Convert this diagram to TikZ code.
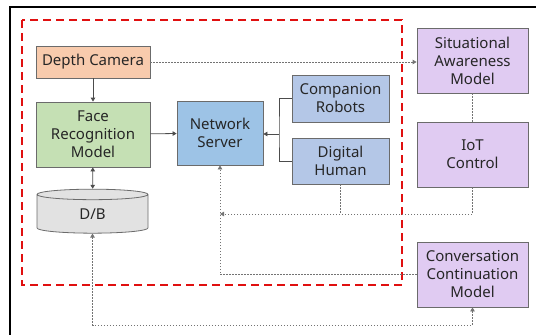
\documentclass[tikz,border=0pt]{standalone}
\usepackage{fontspec}
\setmainfont{Noto Sans}
\usepackage{xcolor}
\definecolor{camfill}{HTML}{F8CBAD}
\definecolor{facefill}{HTML}{C5E0B4}
\definecolor{srvfill}{HTML}{9DC3E6}
\definecolor{botfill}{HTML}{B4C7E7}
\definecolor{modfill}{HTML}{E0CBF2}
\definecolor{dbfill}{HTML}{E2E2E2}
\definecolor{edge}{HTML}{6B6B6B}
\definecolor{zonered}{HTML}{E01010}
\usetikzlibrary{
  shapes.geometric,
  arrows.meta,
  positioning,
  calc
}

\begin{document}
\begin{tikzpicture}[x=1pt, y=-1pt,
  box/.style={rectangle, draw=edge, line width=0.8pt, align=center, inner sep=0pt, text=black!85, font=\fontsize{15}{18}\selectfont},
  arr/.style={-{Triangle[length=4pt,width=4.5pt]}, line width=0.8pt, black!70},
  dotarr/.style={arr, dash pattern=on 1.5pt off 1.5pt, black!55},
  dotline/.style={dash pattern=on 1.5pt off 1.5pt, line width=0.8pt, black!55}
]
  \useasboundingbox (0,0) rectangle (536,335);
  \draw[line width=1.5pt] (10,345) -- (10,7) -- (546,7);
  \draw[zonered, line width=1.3pt, dash pattern=on 8pt off 5pt] (22,20) rectangle (402,285);

  \node[box, fill=camfill, minimum width=114pt, minimum height=32pt] (cam) at (93,62) {Depth Camera};
  \node[box, fill=facefill, minimum width=114pt, minimum height=65pt] (face) at (93,134.5) {Face\\Recognition\\Model};
  \node[box, fill=srvfill, minimum width=86pt, minimum height=64pt] (server) at (220,133) {Network\\Server};
  \node[box, fill=botfill, minimum width=97pt, minimum height=47pt] (robots) at (340.5,98.5) {Companion\\Robots};
  \node[box, fill=botfill, minimum width=97pt, minimum height=46pt] (human) at (340.5,161) {Digital\\Human};
  \node[box, fill=modfill, minimum width=111pt, minimum height=65pt] (aware) at (472.5,60.5) {Situational\\Awareness\\Model};
  \node[box, fill=modfill, minimum width=111pt, minimum height=65pt] (iot) at (472.5,154.5) {IoT\\Control};
  \node[box, fill=modfill, minimum width=111pt, minimum height=65pt] (conv) at (472.5,274.5) {Conversation\\Continuation\\Model};
  \node[box, cylinder, shape border rotate=90, aspect=0.4, cylinder uses custom fill, cylinder body fill=dbfill, cylinder end fill=dbfill, minimum width=111pt, minimum height=44pt] (db) at (92.5,214) {D/B};

  \coordinate (join) at (279,134);
  \coordinate (busA) at (220,214);
  \coordinate (busB) at (0,325);

  \draw[arr] (cam) -- (face);
  \draw[arr, {Triangle[length=4pt,width=4.5pt]}-{Triangle[length=4pt,width=4.5pt]}] (face) -- (db);
  \draw[arr] (face) -- (server);
  \draw[line width=0.8pt, black!70] (robots.west) -| (join) |- (human.west);
  \draw[arr] (join) -- (server.east |- join);

  \draw[dotarr] (cam.east) -- (cam.east -| aware.west);
  \draw[dotline] (aware) -- (iot);
  \draw[dotarr] (iot.south) |- (busA);
  \draw[dotline] (human.south) -- (human.south |- busA);
  \draw[dotarr] (conv.west) -| (server.south);
  \draw[dotarr, {Triangle[length=4pt,width=4.5pt]}-{Triangle[length=4pt,width=4.5pt]}] (db.south) -- (db.south |- busB) -| (conv.south);
\end{tikzpicture}
\end{document}
